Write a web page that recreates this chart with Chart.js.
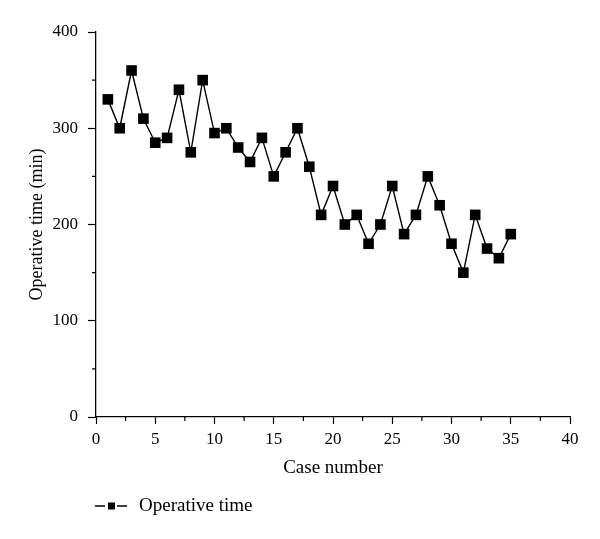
<!DOCTYPE html>
<html><head><meta charset="utf-8">
<script src="https://cdn.jsdelivr.net/npm/chart.js@4/dist/chart.umd.min.js"></script>
<style>html,body{margin:0;padding:0;background:#fff}#wrap{position:relative;width:600px;height:539px}</style>
</head><body><div id="wrap"><canvas id="c" width="600" height="539"></canvas></div>
<script>
const caseNumbers = [1,2,3,4,5,6,7,8,9,10,11,12,13,14,15,16,17,18,19,20,21,22,23,24,25,26,27,28,29,30,31,32,33,34,35];
const operativeTime = [330,300,360,310,285,290,340,275,350,295,300,280,265,290,250,275,300,260,210,240,200,210,180,200,240,190,210,250,220,180,150,210,175,165,190];
const xTickValues = [0,5,10,15,20,25,30,35,40];
const xMinorValues = [2.5,7.5,12.5,17.5,22.5,27.5,32.5,37.5];
const yTickValues = [0,100,200,300,400];
const yMinorValues = [50,150,250,350];
const seriesLabel = 'Operative time';
const xTitle = 'Case number';
const yTitle = 'Operative time (min)';

const FONT = 'Liberation Serif';

const minorTicks = {
  id: 'minorTicks',
  afterDraw(chart) {
    const ctx = chart.ctx, a = chart.chartArea;
    const xs = chart.scales.x, ys = chart.scales.y;
    ctx.save();
    ctx.strokeStyle = '#000';
    ctx.lineWidth = 1.2;
    ctx.beginPath();
    xMinorValues.forEach(v => { const p = xs.getPixelForValue(v); ctx.moveTo(p, a.bottom); ctx.lineTo(p, a.bottom + 4); });
    yMinorValues.forEach(v => { const p = ys.getPixelForValue(v); ctx.moveTo(a.left, p); ctx.lineTo(a.left - 4, p); });
    ctx.stroke();
    ctx.restore();
  }
};

const lineLegend = {
  id: 'lineLegend',
  afterDraw(chart) {
    const ctx = chart.ctx, a = chart.chartArea;
    const ds = chart.data.datasets[0];
    const y = 506, x0 = a.left - 1;
    ctx.save();
    ctx.strokeStyle = ds.borderColor;
    ctx.lineWidth = 1.4;
    ctx.beginPath();
    ctx.moveTo(x0, y); ctx.lineTo(x0 + 10, y);
    ctx.moveTo(x0 + 22, y); ctx.lineTo(x0 + 32, y);
    ctx.stroke();
    ctx.fillStyle = ds.pointBackgroundColor;
    ctx.fillRect(x0 + 13, y - 3.5, 7, 7);
    ctx.font = '19px "' + FONT + '"';
    ctx.textBaseline = 'middle';
    ctx.textAlign = 'left';
    ctx.fillStyle = '#000';
    ctx.fillText(ds.label, x0 + 44, y);
    ctx.restore();
  }
};

new Chart(document.getElementById('c'), {
  type: 'line',
  data: {
    datasets: [{
      label: seriesLabel,
      data: caseNumbers.map((x, i) => ({x: x, y: operativeTime[i]})),
      borderColor: '#000',
      borderWidth: 1.4,
      pointStyle: 'rect',
      pointRadius: 7.5,
      pointBackgroundColor: '#000',
      pointBorderColor: '#000',
      pointBorderWidth: 0,
      tension: 0,
      clip: false
    }]
  },
  options: {
    responsive: false,
    animation: false,
    devicePixelRatio: 1,
    layout: {padding: {left: 0, top: 32, right: 30, bottom: 0}},
    plugins: {legend: {display: false}, tooltip: {enabled: false}},
    scales: {
      x: {
        type: 'linear', min: 0, max: 40,
        afterBuildTicks: s => { s.ticks = xTickValues.map(v => ({value: v})); },
        afterFit: s => { s.height = 122; },
        grid: {drawOnChartArea: false, drawTicks: true, tickLength: 7, tickColor: '#000', tickWidth: 1.2},
        border: {color: '#000', width: 1.3},
        ticks: {color: '#000', font: {family: FONT, size: 17}, padding: 5, maxRotation: 0, autoSkip: false},
        title: {display: true, text: xTitle, color: '#000', font: {family: FONT, size: 19}, padding: {top: 4, bottom: 60}}
      },
      y: {
        type: 'linear', min: 0, max: 400,
        afterBuildTicks: s => { s.ticks = yTickValues.map(v => ({value: v})); },
        afterFit: s => { s.width = 96; },
        grid: {drawOnChartArea: false, drawTicks: true, tickLength: 8, tickColor: '#000', tickWidth: 1.2},
        border: {color: '#000', width: 1.3},
        ticks: {color: '#000', font: {family: FONT, size: 17}, padding: 10},
        title: {display: true, text: yTitle, color: '#000', font: {family: FONT, size: 18}, padding: {top: 26, bottom: 4}}
      }
    }
  },
  plugins: [minorTicks, lineLegend]
});
</script>
</body></html>
